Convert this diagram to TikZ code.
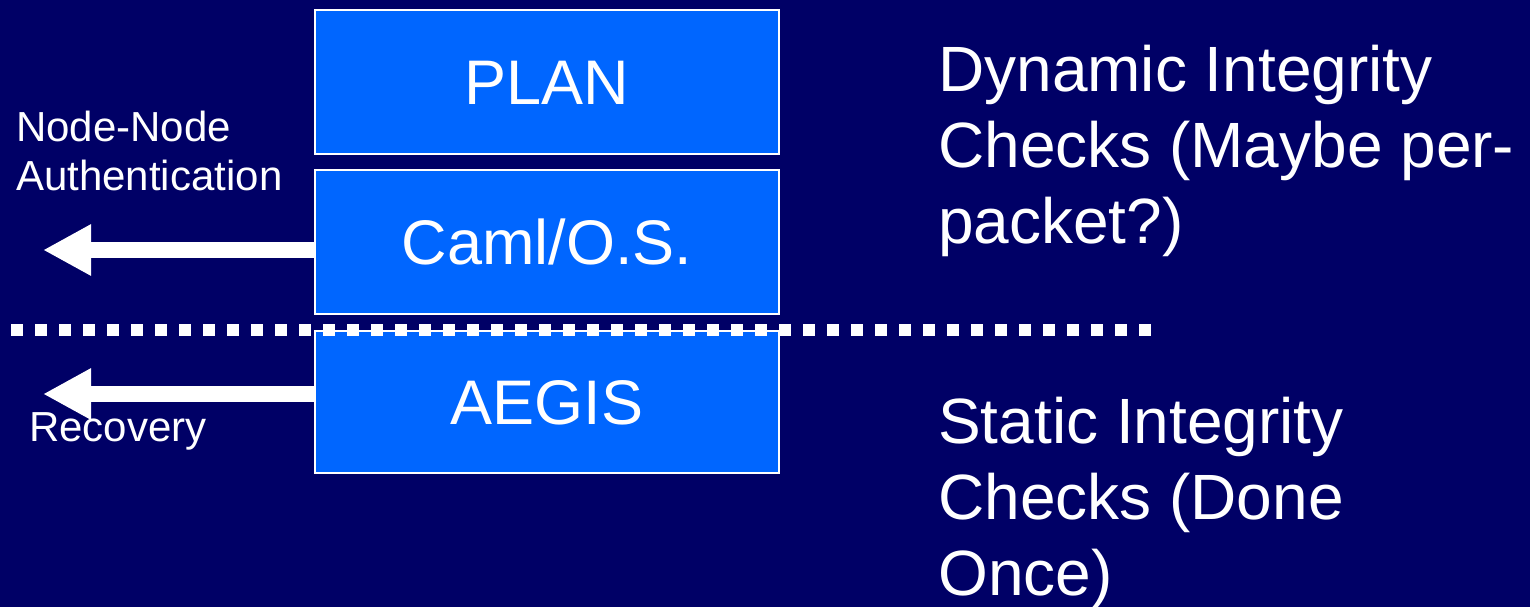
\documentclass[tikz,border=0pt]{standalone}
\usepackage{fontspec}
\setmainfont{Liberation Sans}
\usetikzlibrary{arrows.meta}
\definecolor{slidebg}{HTML}{000066}
\definecolor{layerfill}{HTML}{0066FF}
\tikzset{
  layer/.style={draw=white, line width=2bp, fill=layerfill, inner sep=0pt,
    minimum width=464bp, minimum height=144bp, text=white,
    font=\fontsize{63bp}{72bp}\selectfont, text height=45bp, text depth=0pt},
  bigtext/.style={text=white, align=left, anchor=north west, inner sep=0pt,
    font=\fontsize{64bp}{76bp}\selectfont},
  smalltext/.style={text=white, align=left, anchor=north west, inner sep=0pt,
    font=\fontsize{42bp}{49bp}\selectfont},
  outarrow/.style={white, line width=16bp,
    -{Triangle[length=48bp,width=48bp]}},
  separator/.style={white, line width=12bp, dash pattern=on 12bp off 12bp}
}
\begin{document}
\begin{tikzpicture}[x=1bp, y=-1bp]
  % slide background and page size
  \fill[slidebg] (0,0) rectangle (1530,607);
  \useasboundingbox (0,0) rectangle (1530,607);

  % protocol layers
  \node[layer] (plan) at (547,82) {PLAN};
  \node[layer] (caml) at (547,242) {Caml/O.S.};
  \node[layer, minimum height=142bp] (aegis) at (547,402) {AEGIS};

  % outgoing arrows
  \coordinate (authtip) at (43,250);
  \coordinate (rectip) at (43,394);
  \draw[outarrow] (caml.west |- authtip) -- (authtip);
  \draw[outarrow] (aegis.west |- rectip) -- (rectip);

  % boundary between dynamic and static checks
  \coordinate (sepL) at (11,330);
  \coordinate (sepR) at (1151,330);
  \draw[separator] (sepL) -- (sepR);

  % labels
  \node[smalltext] (auth) at (16,111) {Node-Node\\Authentication};
  \node[smalltext] (rec) at (29,412) {Recovery};
  \node[bigtext] (dyn) at (938,45) {Dynamic Integrity\\Checks (Maybe per-\\packet?)};
  \node[bigtext] (stat) at (938,397) {Static Integrity\\Checks (Done\\Once)};
\end{tikzpicture}
\end{document}
